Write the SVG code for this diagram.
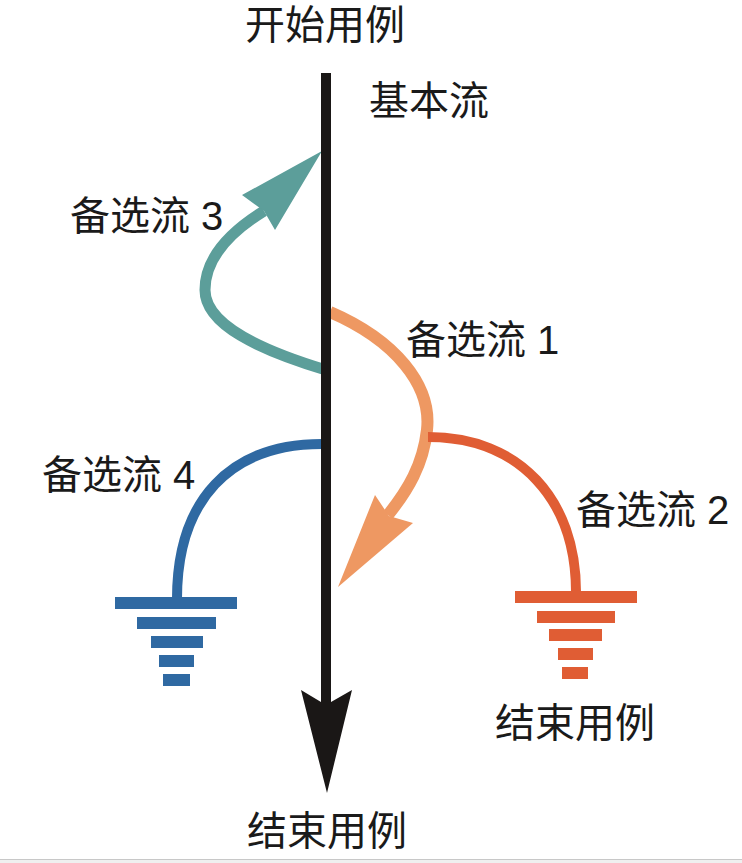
<svg xmlns="http://www.w3.org/2000/svg" width="742" height="863" viewBox="0 0 742 863">
<style>
text{font-family:"Liberation Sans","Noto Sans CJK SC",sans-serif;font-size:40px;fill:#1a1a1a}
.s{fill:none;stroke-linecap:butt}
.teal{stroke:#5c9e9a;stroke-width:11}
.org{stroke:#ee9862;stroke-width:12}
.red{stroke:#e05d34;stroke-width:10}
.blue{stroke:#2f69a2;stroke-width:10}
</style>
<rect width="742" height="863" fill="#ffffff"/>
<rect x="0" y="859" width="742" height="4" fill="#efefef"/>
<line x1="0" y1="859.5" x2="742" y2="859.5" stroke="#c8c8c8" stroke-width="1"/>
<g id="connectors">
<g id="flow3">
<path class="s teal" d="M326 370 C260 350 205 325 205 290 C205 258 230 232 264 211"/>
<polygon points="322,151 275,230 264,211 242,195" fill="#5c9e9a"/>
</g>
<g id="flow1">
<path class="s org" d="M330 312 C395 340 432 385 427 430 C423 465 408 490 388 515"/>
<polygon points="338,587 375,495 389,516 413,523" fill="#ee9862"/>
</g>
<g id="flow2">
<path class="s red" d="M428 437 C520 437 576 500 576 592"/>
</g>
<g id="flow4">
<path class="s blue" d="M322 444 C230 444 177 500 177 599"/>
</g>
</g>
<g id="main">
<rect x="321" y="73" width="10" height="630" fill="#1a1716"/>
<polygon points="301,690 321,702 331,702 352,690 327,793" fill="#1a1716"/>
</g>
<g id="ground-blue" fill="#2f69a2">
<rect x="115" y="597" width="122" height="12"/>
<rect x="137" y="617" width="79" height="12"/>
<rect x="151" y="636" width="52" height="12"/>
<rect x="159" y="655" width="35" height="12"/>
<rect x="163" y="674" width="27" height="12"/>
</g>
<g id="ground-red" fill="#e05d34">
<rect x="515" y="591" width="122" height="12"/>
<rect x="537" y="611" width="78" height="12"/>
<rect x="549" y="629" width="53" height="12"/>
<rect x="558" y="648" width="35" height="12"/>
<rect x="562" y="667" width="26" height="12"/>
</g>
<g id="start"><text x="325" y="39" text-anchor="middle">开始用例</text></g>
<g id="basic"><text x="369" y="115">基本流</text></g>
<g id="label3"><text x="70" y="230">备选流 3</text></g>
<g id="label1"><text x="406" y="354">备选流 1</text></g>
<g id="label4"><text x="42" y="489">备选流 4</text></g>
<g id="label2"><text x="576" y="524">备选流 2</text></g>
<g id="end-right"><text x="575" y="737" text-anchor="middle">结束用例</text></g>
<g id="end-bottom"><text x="327" y="845" text-anchor="middle">结束用例</text></g>
</svg>
